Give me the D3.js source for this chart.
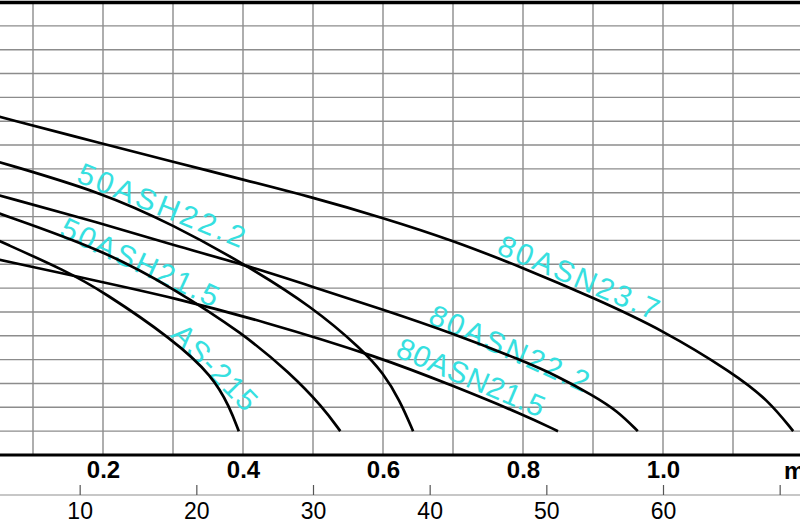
<!DOCTYPE html>
<html>
<head>
<meta charset="utf-8">
<script src="https://cdn.jsdelivr.net/npm/d3@7"></script>
<style>
html,body{margin:0;padding:0;background:#fff;}
svg{display:block;font-family:"Liberation Sans",Arial,Helvetica,sans-serif;}
</style>
</head>
<body>
<svg id="chart" width="800" height="523"></svg>
<script>
// flow Q in m3/min (top axis) and m3/h (bottom axis), head H in m
var flowTicks = [0.2, 0.4, 0.6, 0.8, 1.0],
	flowHourTicks = [10, 20, 30, 40, 50, 60, 70],
	gridFlow = [0.1, 0.2, 0.3, 0.4, 0.5, 0.6, 0.7, 0.8, 0.9, 1.0, 1.1],
	gridHead = [1, 2, 3, 4, 5, 6, 7, 8, 9, 10, 11, 12, 13, 14, 15, 16, 17, 18],
	pumpNames = ["80ASN23.7", "50ASH22.2", "80ASN22.2", "50ASH21.5", "80ASN21.5", "AS-215"];

var q80ASN237 = [0.05, 0.2, 0.3, 0.4, 0.5, 0.6, 0.7, 0.8, 0.9, 1.0, 1.1, 1.15, 1.186],
	h80ASN237 = [14.2, 13.05, 12.3, 11.55, 10.8, 9.95, 9.0, 7.85, 6.6, 5.24, 3.44, 2.31, 1.0];
var q50ASH222 = [0.05, 0.2, 0.3, 0.4, 0.5, 0.571, 0.6, 0.624, 0.643],
	h50ASH222 = [12.3, 11.0, 9.65, 8.05, 6.2, 4.4, 3.45, 2.3, 1.0];
var q80ASN222 = [0.05, 0.2, 0.3, 0.4, 0.5, 0.6, 0.7, 0.8, 0.85, 0.9, 0.935, 0.964],
	h80ASN222 = [10.9, 9.7, 8.8, 8.0, 7.05, 6.1, 5.1, 3.95, 3.3, 2.5, 1.85, 1.0];
var q50ASH215 = [0.05, 0.2, 0.3, 0.4, 0.467, 0.514, 0.539],
	h50ASH215 = [10.15, 8.6, 7.0, 5.1, 3.44, 2.01, 1.0];
var q80ASN215 = [0.05, 0.2, 0.3, 0.424, 0.596, 0.7, 0.8, 0.85],
	h80ASN215 = [8.2, 7.25, 6.6, 5.65, 4.1, 2.9, 1.7, 1.0];
var qAS215 = [0.05, 0.149, 0.2, 0.3, 0.357, 0.381, 0.394],
	hAS215 = [9.0, 7.7, 6.85, 4.85, 3.3, 2.0, 1.0];

var curveQ = [q80ASN237, q50ASH222, q80ASN222, q50ASH215, q80ASN215, qAS215],
	curveH = [h80ASN237, h50ASH222, h80ASN222, h50ASH215, h80ASN215, hAS215];

// label placement (centre in Q/H units, rotation, fitted length)
var labelLayout = [
	{q: 0.88, h: 7.47, angle: 23, len: 172},
	{q: 0.284, h: 10.49, angle: 22, len: 178},
	{q: 0.781, h: 4.49, angle: 24, len: 172},
	{q: 0.253, h: 8.1, angle: 25, len: 171},
	{q: 0.726, h: 3.27, angle: 23, len: 158},
	{q: 0.36, h: 3.69, angle: 45.5, len: 108}
];

var width = 800, height = 523;
var svg = d3.select("#chart");

var x = d3.scaleLinear().domain([0, 1.2]).range([-37, 803]);
var xh = d3.scaleLinear().domain([0, 72]).range([-37, 803]);
var y = d3.scaleLinear().domain([0, 19]).range([455, 2]);

// grid
var grid = svg.append("g").attr("stroke", "#8c8c8c").attr("stroke-width", 1.4);
grid.selectAll(".v").data(gridFlow).enter().append("line")
	.attr("x1", d => x(d)).attr("x2", d => x(d))
	.attr("y1", y(19)).attr("y2", y(0));
grid.selectAll(".h").data(gridHead).enter().append("line")
	.attr("x1", 0).attr("x2", width)
	.attr("y1", d => y(d)).attr("y2", d => y(d));

// frame top and Q axis line
svg.append("line").attr("x1", 0).attr("x2", width).attr("y1", y(19) + 0.5).attr("y2", y(19) + 0.5)
	.attr("stroke", "#000").attr("stroke-width", 3.5);
svg.append("line").attr("x1", 0).attr("x2", width).attr("y1", y(0)).attr("y2", y(0))
	.attr("stroke", "#000").attr("stroke-width", 3);

// top axis labels m3/min
var topAxis = svg.append("g").attr("transform", "translate(0," + y(0) + ")")
	.call(d3.axisBottom(x).tickValues(flowTicks).tickSize(0).tickPadding(6).tickFormat(d3.format(".1f")));
topAxis.select(".domain").remove();
topAxis.attr("font-size", 24).attr("font-family", null);
topAxis.selectAll("text").attr("font-weight", "bold").attr("fill", "#000");
svg.append("text").attr("x", 784).attr("y", 479).attr("font-size", 24).attr("font-weight", "bold")
	.text("m³/min");

// bottom axis m3/h
svg.append("line").attr("x1", 0).attr("x2", width).attr("y1", 495).attr("y2", 495)
	.attr("stroke", "#b5b5b5").attr("stroke-width", 1.5);
var botAxis = svg.append("g").attr("transform", "translate(0,495)")
	.call(d3.axisBottom(xh).tickValues(flowHourTicks).tickSize(-10).tickPadding(8)
		.tickFormat(d => d === 70 ? "" : d));
botAxis.select(".domain").remove();
botAxis.attr("font-size", 23).attr("font-family", null);
botAxis.selectAll(".tick line").attr("stroke", "#555").attr("stroke-width", 1.2);
botAxis.selectAll("text").attr("fill", "#000");

// pump labels
var labels = svg.append("g");
labels.selectAll("text").data(pumpNames).enter().append("text")
	.attr("transform", (d, i) => "translate(" + x(labelLayout[i].q) + "," + y(labelLayout[i].h) + ") rotate(" + labelLayout[i].angle + ")")
	.attr("text-anchor", "middle")
	.attr("dy", "0.36em")
	.attr("font-size", 30)
	.attr("fill", "#36e0e0")
	.attr("textLength", (d, i) => labelLayout[i].len)
	.attr("lengthAdjust", "spacing")
	.text(d => d);

// curves
var line = d3.line().x(d => x(d[0])).y(d => y(d[1])).curve(d3.curveBasis);
svg.append("g").selectAll("path").data(pumpNames).enter().append("path")
	.attr("d", (d, i) => line(d3.zip(curveQ[i], curveH[i])))
	.attr("fill", "none")
	.attr("stroke", "#000")
	.attr("stroke-width", 2.7);
</script>
</body>
</html>
